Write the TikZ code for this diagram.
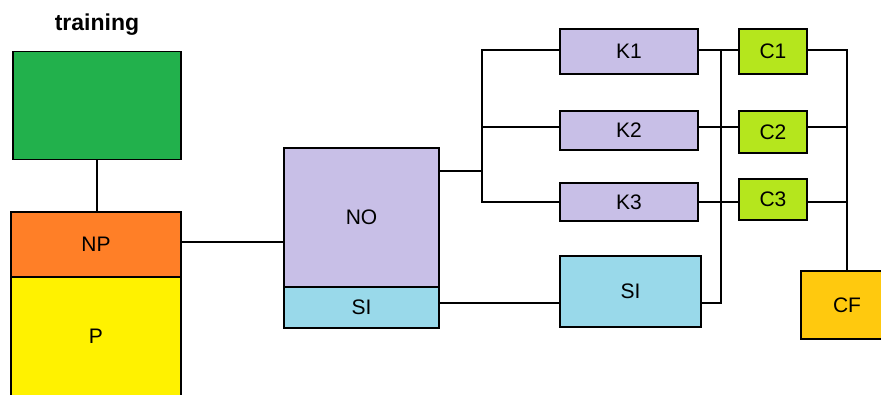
\documentclass[tikz,border=0pt]{standalone}
\usepackage{fontspec}
\setmainfont{Liberation Sans}
\definecolor{cgreen}{HTML}{22B14C}
\definecolor{corange}{HTML}{FF7F27}
\definecolor{cyellow}{HTML}{FFF200}
\definecolor{clav}{HTML}{C8BFE7}
\definecolor{cblue}{HTML}{99D9EA}
\definecolor{clime}{HTML}{B5E61D}
\definecolor{cgold}{HTML}{FFC90E}
\begin{document}
\begin{tikzpicture}[x=1pt,y=-1pt,
  box/.style={draw=black,line width=1.8pt,inner sep=0pt,font=\fontsize{21}{25}\selectfont},
  wire/.style={draw=black,line width=2pt}]
\useasboundingbox (0,0) rectangle (881,394);
\node[font=\bfseries\fontsize{23}{27}\selectfont,anchor=base] (title) at (97,30) {training};
\node[box,fill=cgreen,minimum width=168pt,minimum height=108pt] (tr) at (97,105.5) {};
\node[box,fill=cyellow,minimum width=170pt,minimum height=123pt] (P) at (96,338.5) {\raisebox{5pt}{P}};
\node[box,fill=corange,minimum width=170pt,minimum height=65pt] (NP) at (96,244.5) {NP};
\node[box,fill=clav,minimum width=155pt,minimum height=139pt] (NO) at (361.5,217.5) {NO};
\node[box,fill=cblue,minimum width=155pt,minimum height=41pt] (SIa) at (361.5,307.5) {SI};
\node[box,fill=clav,minimum width=138pt,minimum height=45pt] (K1) at (629,51.5) {K1};
\node[box,fill=clav,minimum width=138pt,minimum height=39pt] (K2) at (629,130.5) {K2};
\node[box,fill=clav,minimum width=138pt,minimum height=38pt] (K3) at (629,202) {K3};
\node[box,fill=cblue,minimum width=141pt,minimum height=71pt] (SIb) at (630.5,291.5) {SI};
\node[box,fill=clime,minimum width=68pt,minimum height=45pt] (C1) at (773,51.5) {C1};
\node[box,fill=clime,minimum width=68pt,minimum height=42pt] (C2) at (773,132) {C2};
\node[box,fill=clime,minimum width=68pt,minimum height=41pt] (C3) at (773,199.5) {C3};
\node[box,fill=cgold,minimum width=92pt,minimum height=68pt] (CF) at (847,305) {CF};
\coordinate (b0) at (97,0);
\coordinate (b1) at (482,0);
\coordinate (b2) at (721,0);
\coordinate (b3) at (847,0);
\coordinate (noy) at (0,171);
\coordinate (npy) at (0,242);
\coordinate (siy) at (0,303);
\coordinate (y1) at (0,50);
\coordinate (y2) at (0,127);
\coordinate (y3) at (0,202);
\draw[wire] (b0 |- tr.south) -- (b0 |- NP.north);
\draw[wire] (NP.east |- npy) -- (NO.west |- npy);
\draw[wire] (NO.east |- noy) -- (b1 |- noy);
\draw[wire] (K1.west |- y1) -- (b1 |- y1) -- (b1 |- y3) -- (K3.west |- y3);
\draw[wire] (K2.west |- y2) -- (b1 |- y2);
\draw[wire] (SIa.east |- siy) -- (SIb.west |- siy);
\draw[wire] (K1.east |- y1) -- (C1.west |- y1);
\draw[wire] (K2.east |- y2) -- (C2.west |- y2);
\draw[wire] (K3.east |- y3) -- (C3.west |- y3);
\draw[wire] (b2 |- y1) -- (b2 |- siy) -- (SIb.east |- siy);
\draw[wire] (C1.east |- y1) -- (b3 |- y1) -- (b3 |- CF.north);
\draw[wire] (C2.east |- y2) -- (b3 |- y2);
\draw[wire] (C3.east |- y3) -- (b3 |- y3);
\end{tikzpicture}
\end{document}
